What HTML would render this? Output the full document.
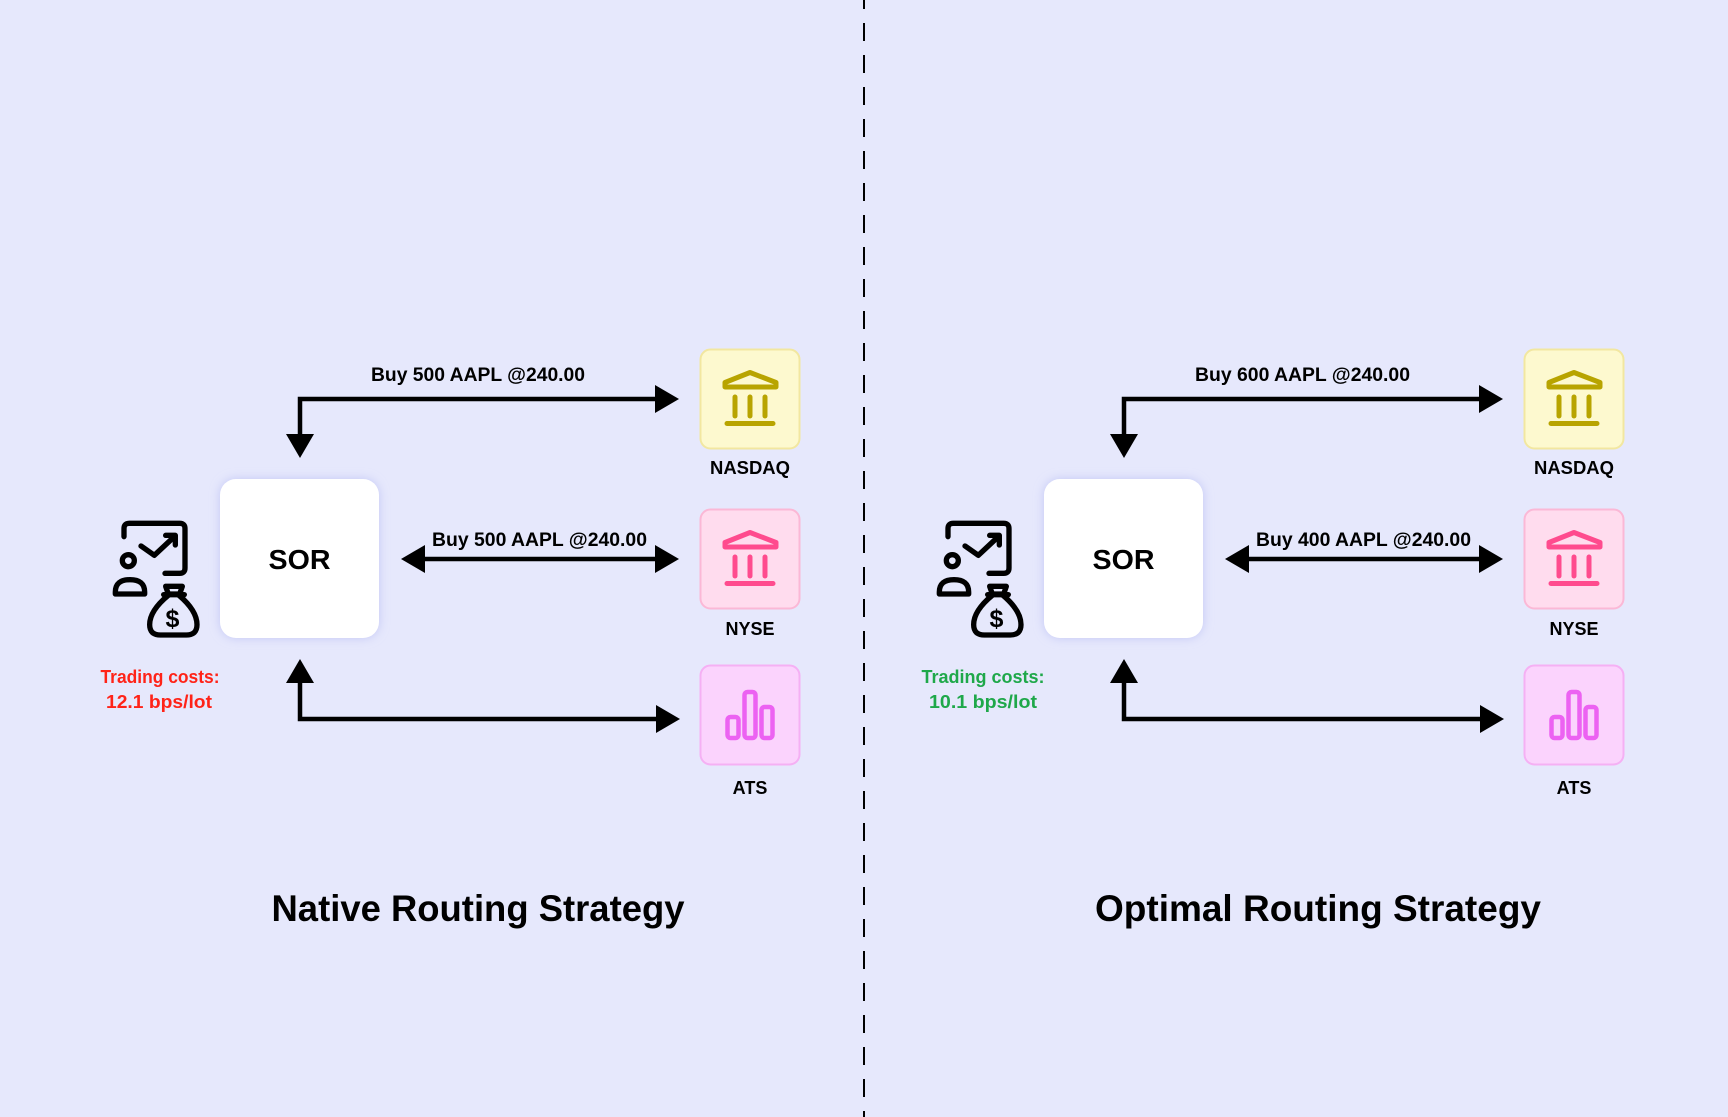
<!DOCTYPE html>
<html>
<head>
<meta charset="utf-8">
<style>
  html, body { margin: 0; padding: 0; background: #e6e8fc; }
  body { width: 1728px; height: 1117px; overflow: hidden; }
  svg { display: block; }
  text { font-family: "Liberation Sans", "DejaVu Sans", sans-serif; font-weight: bold; }
</style>
</head>
<body>
<svg width="1728" height="1117" viewBox="0 0 1728 1117" xmlns="http://www.w3.org/2000/svg">
  <defs>
    <filter id="glow" x="-20%" y="-20%" width="140%" height="140%">
      <feDropShadow dx="0" dy="0" stdDeviation="5" flood-color="#b4b8f2" flood-opacity="0.7"/>
    </filter>

    <g id="person">
      <g transform="scale(0.3333)" fill="none" stroke="#000" stroke-width="16" stroke-linecap="round" stroke-linejoin="round">
        <path d="M57,80 V56 Q57,40 73,40 H224 Q240,40 240,56 V174 Q240,190 224,190 H180"/>
        <polyline points="108,108 148,136 210,78"/>
        <polyline points="182,76 211,76 211,105"/>
        <circle cx="70" cy="152" r="18"/>
        <path d="M31,252 H119 V246 Q119,209 75,209 Q31,209 31,246 Z"/>
        <path d="M182,229 H232 L224,252 H190 Z"/>
        <line x1="176" y1="254" x2="238" y2="254"/>
        <path d="M190,256 Q134,302 134,344 Q134,375 166,375 H244 Q276,375 276,344 Q276,302 222,256"/>
      </g>
    </g>

    <g id="bank">
      <g fill="none" stroke-width="5" stroke-linecap="round" stroke-linejoin="round">
        <path d="M725,387 V382.5 L750,372.5 L776,382.5 V387 Z"/>
        <line x1="735" y1="397" x2="735" y2="416"/>
        <line x1="750" y1="397" x2="750" y2="416"/>
        <line x1="765" y1="397" x2="765" y2="416"/>
        <line x1="727" y1="423.5" x2="773" y2="423.5"/>
      </g>
    </g>

    <g id="panel">
      <!-- SOR box -->
      <rect x="220" y="479" width="159" height="159" rx="16" ry="16" fill="#ffffff" filter="url(#glow)"/>
      <text x="299.5" y="569" font-size="28" text-anchor="middle" fill="#000" textLength="62" lengthAdjust="spacingAndGlyphs">SOR</text>

      <!-- person icon -->
      <use href="#person" transform="translate(105,510)"/>
      <text x="172.5" y="627" font-size="25" text-anchor="middle" fill="#000">$</text>

      <!-- Arrows -->
      <g stroke="#000" stroke-width="4.5" fill="none" stroke-linejoin="miter">
        <path d="M300,436 V399 H657"/>
        <path d="M423,559 H657"/>
        <path d="M300,681 V719 H658"/>
      </g>
      <g fill="#000">
        <polygon points="286,434 314,434 300,458"/>
        <polygon points="655,385 655,413 679,399"/>
        <polygon points="425,545 425,573 401,559"/>
        <polygon points="655,545 655,573 679,559"/>
        <polygon points="286,683 314,683 300,659"/>
        <polygon points="656,705 656,733 680,719"/>
      </g>

      <!-- NASDAQ -->
      <rect x="700.5" y="349.5" width="99" height="99" rx="10" ry="10" fill="#fdf9cf" stroke="#f2e7a0" stroke-width="2"/>
      <use href="#bank" stroke="#b8a400"/>
      <text x="750" y="474" font-size="18" text-anchor="middle" fill="#000" textLength="80" lengthAdjust="spacingAndGlyphs">NASDAQ</text>

      <!-- NYSE -->
      <rect x="700.5" y="509.5" width="99" height="99" rx="10" ry="10" fill="#ffdcee" stroke="#fbb8d6" stroke-width="2"/>
      <use href="#bank" transform="translate(0,160)" stroke="#ff4b8e"/>
      <text x="750" y="635" font-size="18" text-anchor="middle" fill="#000">NYSE</text>

      <!-- ATS -->
      <rect x="700.5" y="665.5" width="99" height="99" rx="10" ry="10" fill="#fbd3fd" stroke="#f5b0f4" stroke-width="2"/>
      <g fill="none" stroke="#ec62f2" stroke-width="4.5" stroke-linejoin="round">
        <rect x="727.5" y="717" width="11" height="21" rx="3"/>
        <rect x="744.5" y="692" width="11" height="46" rx="3"/>
        <rect x="761.5" y="707" width="11" height="31" rx="3"/>
      </g>
      <text x="750" y="794" font-size="18" text-anchor="middle" fill="#000">ATS</text>
    </g>
  </defs>

  <rect x="0" y="0" width="1728" height="1117" fill="#e6e8fc"/>

  <!-- divider -->
  <line x1="864" y1="-9" x2="864" y2="1117" stroke="#000" stroke-width="2" stroke-dasharray="18 14"/>

  <!-- LEFT PANEL -->
  <use href="#panel"/>
  <text x="371" y="381" font-size="19" fill="#000" textLength="214" lengthAdjust="spacingAndGlyphs">Buy 500 AAPL @240.00</text>
  <text x="432" y="546" font-size="19" fill="#000" textLength="215" lengthAdjust="spacingAndGlyphs">Buy 500 AAPL @240.00</text>
  <text x="160" y="683" font-size="18" text-anchor="middle" fill="#ff2318" textLength="119" lengthAdjust="spacingAndGlyphs">Trading costs:</text>
  <text x="159" y="708" font-size="18" text-anchor="middle" fill="#ff2318" textLength="106" lengthAdjust="spacingAndGlyphs">12.1 bps/lot</text>
  <text x="478" y="921" font-size="37" text-anchor="middle" fill="#000" textLength="413" lengthAdjust="spacingAndGlyphs">Native Routing Strategy</text>

  <!-- RIGHT PANEL -->
  <use href="#panel" transform="translate(824,0)"/>
  <text x="1195" y="381" font-size="19" fill="#000" textLength="215" lengthAdjust="spacingAndGlyphs">Buy 600 AAPL @240.00</text>
  <text x="1256" y="546" font-size="19" fill="#000" textLength="215" lengthAdjust="spacingAndGlyphs">Buy 400 AAPL @240.00</text>
  <text x="983" y="683" font-size="18" text-anchor="middle" fill="#1fa84a" textLength="123" lengthAdjust="spacingAndGlyphs">Trading costs:</text>
  <text x="983" y="708" font-size="18" text-anchor="middle" fill="#1fa84a" textLength="108" lengthAdjust="spacingAndGlyphs">10.1 bps/lot</text>
  <text x="1318" y="921" font-size="37" text-anchor="middle" fill="#000" textLength="446" lengthAdjust="spacingAndGlyphs">Optimal Routing Strategy</text>
</svg>
</body>
</html>
